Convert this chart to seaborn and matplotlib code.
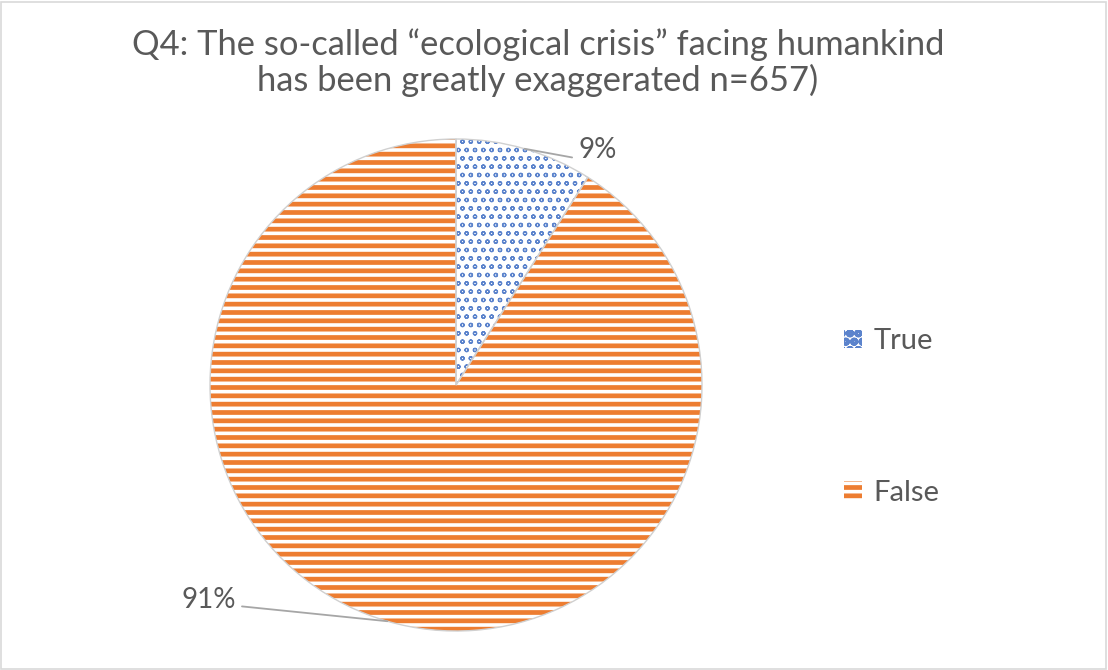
import matplotlib
matplotlib.use("Agg")
import matplotlib.pyplot as plt
import seaborn as sns
import numpy as np
from matplotlib.patches import Rectangle

# Survey responses (share of n=657)
categories = ["True", "False"]
shares = [9, 91]
value_labels = ["9%", "91%"]
title_text = "Q4: The so-called \u201cecological crisis\u201d facing humankind\nhas been greatly exaggerated n=657)"

sns.set_theme(style="white")
plt.rcParams["font.family"] = ["Lato", "DejaVu Sans"]

blue = "#4472C4"
orange = "#ED7D31"
text_grey = "#595959"

W, H = 1108, 670
fig = plt.figure(figsize=(W / 100, H / 100), dpi=100)
fig.patch.set_facecolor("white")

# Chart border
fig.patches.append(Rectangle((1 / W, 1 / H), (W - 3) / W, (H - 3) / H,
                             transform=fig.transFigure, fill=False,
                             edgecolor="#d9d9d9", linewidth=1.2))

R = 246
cx, cy = 456, 385
ax = fig.add_axes([(cx - R) / W, (H - cy - R) / H, 2 * R / W, 2 * R / H])

plt.rcParams["hatch.linewidth"] = 3.4
wedges, _ = ax.pie(shares, startangle=90, counterclock=False, radius=1,
                   colors=["white", "white"])
hatches = ["oo", "--"]
hatch_cols = ["#5b83cc", orange]
hatch_lw = [0.9, 3.4]
for w, h, c, lw in zip(wedges, hatches, hatch_cols, hatch_lw):
    w.set_hatch(h)
    w.set_edgecolor(c)
    w.set_linewidth(0)
    if hasattr(w, "set_hatch_linewidth"):
        w.set_hatch_linewidth(lw)

# Thin light outline around the slices
outline, _ = ax.pie(shares, startangle=90, counterclock=False, radius=1,
                    wedgeprops=dict(fill=False, edgecolor="#d0d0d0", linewidth=1.0))

ax.set_xlim(-1.0, 1.0)
ax.set_ylim(-1.0, 1.0)
ax.set_aspect("equal")
ax.axis("off")

# Value labels with leader lines from the slice mid-angle
label_pos = [(0.497, 0.955), (-0.893, -0.874)]
line_end = [(0.472, 0.925), (-0.87, -0.90)]
aligns = ["left", "right"]
for w, lab, tp, le, ha in zip(wedges, value_labels, label_pos, line_end, aligns):
    mid = np.deg2rad((w.theta1 + w.theta2) / 2)
    p = (np.cos(mid), np.sin(mid))
    ax.plot([p[0], le[0]], [p[1], le[1]], color="#a6a6a6", linewidth=1.3,
            clip_on=False)
    ax.text(tp[0], tp[1], lab, ha=ha, va="center", fontsize=20,
            color=text_grey, clip_on=False)

fig.text(538 / W, 1 - 63 / H, title_text, ha="center", va="center",
         fontsize=24.8, color=text_grey, linespacing=1.1)

leg = fig.legend(wedges, categories, loc="center left",
                 bbox_to_anchor=(818 / W, 1 - 417 / H), frameon=False,
                 fontsize=21, labelcolor=text_grey, handlelength=0.6,
                 handleheight=0.6, handletextpad=0.4, labelspacing=4.3)

fig.savefig("out.png", dpi=100)
